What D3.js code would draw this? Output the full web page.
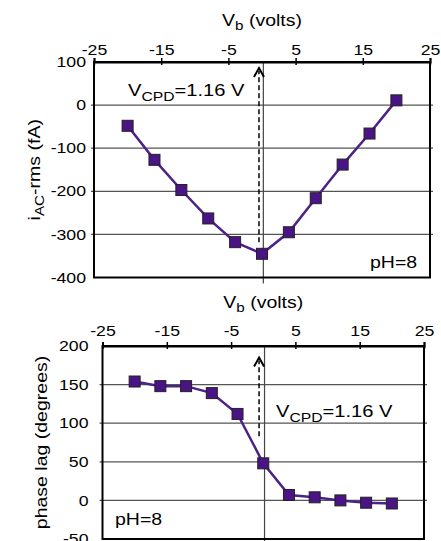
<!DOCTYPE html>
<html>
<head>
<meta charset="utf-8">
<script src="https://cdn.jsdelivr.net/npm/d3@7"></script>
<style>
  body { margin: 0; background: #fff; }
  svg { display: block; font-family: "Liberation Sans", Arial, sans-serif; }
</style>
</head>
<body>
<div id="chart"></div>
<script>
// data
const vb = [-20, -16, -12, -8, -4, 0, 4, 8, 12, 16, 20];
const iacRms = [-48, -127, -197, -263, -318, -345, -295, -216, -138, -66, 11];
const phaseLag = [154, 148, 148, 139, 112, 48, 7, 4, 0, -3, -4];

const xTicks = [-25, -15, -5, 5, 15, 25];
const iacTicks = [100, 0, -100, -200, -300, -400];
const phaseTicks = [200, 150, 100, 50, 0, -50];

const W = 441, H = 541;
const SX = 1.22;               // text in the figure is wider than Arial
const lineColor = '#4b2387';
const markerFill = '#4a1486';

const svg = d3.select('#chart').append('svg')
    .attr('width', W)
    .attr('height', H);
svg.append('rect').attr('width', W).attr('height', H).attr('fill', '#fff');

// text with optional subscript, stretched horizontally
function label(parent, x, y, parts, size, anchor, rotate) {
    const g = parent.append('g')
        .attr('transform', `translate(${x},${y})` + (rotate ? ` rotate(${rotate})` : '') + ` scale(${SX},1)`);
    const t = g.append('text')
        .attr('text-anchor', anchor || 'start')
        .attr('font-size', size)
        .attr('fill', '#000');
    let shift = 0;
    parts.forEach(p => {
        if (p.sub) {
            t.append('tspan').attr('font-size', size * 0.78).attr('dy', size * 0.28).text(p.sub);
            shift = -size * 0.28;
        } else {
            t.append('tspan').attr('font-size', size).attr('dy', shift).text(p.t);
            shift = 0;
        }
    });
    return g;
}

function drawPanel(cfg) {
    const x = d3.scaleLinear().domain([-25, 25]).range([cfg.left, cfg.right]);
    const y = d3.scaleLinear().domain(cfg.yDomain).range([cfg.bottom, cfg.top]);
    const g = svg.append('g');

    // horizontal grid
    g.append('g').selectAll('line')
        .data(cfg.yTicks.filter(v => v !== cfg.yDomain[0] && v !== cfg.yDomain[1]))
        .join('line')
        .attr('x1', cfg.left - 3).attr('x2', cfg.right + 3)
        .attr('y1', d => y(d)).attr('y2', d => y(d))
        .attr('stroke', '#555').attr('stroke-width', 1.2);

    // vertical line through zero volts
    g.append('line')
        .attr('x1', x(0.2)).attr('x2', x(0.2))
        .attr('y1', cfg.top).attr('y2', cfg.bottom + cfg.vExtend)
        .attr('stroke', '#444').attr('stroke-width', 1.2);

    // frame
    g.append('rect')
        .attr('x', cfg.left).attr('y', cfg.top)
        .attr('width', cfg.right - cfg.left).attr('height', cfg.bottom - cfg.top)
        .attr('fill', 'none').attr('stroke', '#000').attr('stroke-width', 2);

    // top axis
    const xAxis = g.append('g')
        .attr('transform', `translate(0,${cfg.top})`)
        .call(d3.axisTop(x).tickValues(xTicks).tickSize(4).tickFormat(d3.format('d')));
    xAxis.select('.domain').attr('stroke', '#000').attr('stroke-width', 2);
    xAxis.selectAll('.tick line').attr('stroke', '#000').attr('stroke-width', 1.5).attr('y2', -4).attr('y1', 3);
    xAxis.selectAll('.tick text')
        .attr('font-size', 14.5).attr('font-family', 'Liberation Sans, Arial, sans-serif')
        .attr('fill', '#000').attr('y', -cfg.xLabelGap)
        .attr('transform', `scale(${SX},1)`)
        .text(d => d < 0 ? '-' + Math.abs(d) : d);

    // left axis labels
    const yAxis = g.append('g')
        .attr('transform', `translate(${cfg.left},0)`)
        .call(d3.axisLeft(y).tickValues(cfg.yTicks).tickSize(0).tickFormat(d => d < 0 ? '-' + Math.abs(d) : d));
    yAxis.select('.domain').remove();
    yAxis.selectAll('.tick text')
        .attr('font-size', 14.5).attr('font-family', 'Liberation Sans, Arial, sans-serif')
        .attr('fill', '#000').attr('x', -cfg.yLabelGap / SX)
        .attr('transform', `scale(${SX},1)`);

    // dashed CPD arrow
    const ax = x(cfg.arrowX);
    g.append('line')
        .attr('x1', ax).attr('x2', ax)
        .attr('y1', y(cfg.arrowFrom)).attr('y2', y(cfg.arrowTo) + 3)
        .attr('stroke', '#000').attr('stroke-width', 1.5).attr('stroke-dasharray', '5,3');
    g.append('path')
        .attr('d', `M${ax - 5},${y(cfg.arrowTo) + 9} L${ax},${y(cfg.arrowTo)} L${ax + 5},${y(cfg.arrowTo) + 9}`)
        .attr('fill', 'none').attr('stroke', '#000').attr('stroke-width', 2);

    // series
    const pts = vb.map((v, i) => [v, cfg.values[i]]);
    g.append('path')
        .datum(pts)
        .attr('d', d3.line().x(d => x(d[0])).y(d => y(d[1])))
        .attr('fill', 'none').attr('stroke', lineColor).attr('stroke-width', 2.5);
    g.append('g').selectAll('rect')
        .data(pts)
        .join('rect')
        .attr('x', d => x(d[0]) - 5.5).attr('y', d => y(d[1]) - 5.5)
        .attr('width', 11).attr('height', 11)
        .attr('fill', markerFill).attr('stroke', '#222').attr('stroke-width', 1);

    // texts
    label(svg, (cfg.left + cfg.right) / 2, cfg.titleY, [{ t: 'V' }, { sub: 'b' }, { t: ' (volts)' }], 16, 'middle');
    label(svg, cfg.yTitleX, (cfg.top + cfg.bottom) / 2, cfg.yTitle, 16, 'middle', -90);
    label(svg, cfg.cpdX, cfg.cpdY, [{ t: 'V' }, { sub: 'CPD' }, { t: '=1.16 V' }], 16.5, 'start');
    label(svg, cfg.phX, cfg.phY, [{ t: 'pH=8' }], 16, 'start');
}

drawPanel({
    left: 94, right: 430, top: 62, bottom: 277.5,
    yDomain: [-400, 100], yTicks: iacTicks, values: iacRms,
    xLabelGap: 7, yLabelGap: 8, vExtend: 6,
    arrowX: -0.45, arrowFrom: -318, arrowTo: 86,
    titleY: 26,
    yTitleX: 40, yTitle: [{ t: 'i' }, { sub: 'AC' }, { t: '-rms (fA)' }],
    cpdX: 128, cpdY: 96, phX: 370, phY: 268
});

drawPanel({
    left: 102.5, right: 424, top: 346, bottom: 539,
    yDomain: [-50, 200], yTicks: phaseTicks, values: phaseLag,
    xLabelGap: 10, yLabelGap: 14, vExtend: 6,
    arrowX: -0.65, arrowFrom: 83, arrowTo: 185,
    titleY: 308,
    yTitleX: 47, yTitle: [{ t: 'phase lag (degrees)' }],
    cpdX: 276, cpdY: 417, phX: 115, phY: 525
});
</script>
</body>
</html>
